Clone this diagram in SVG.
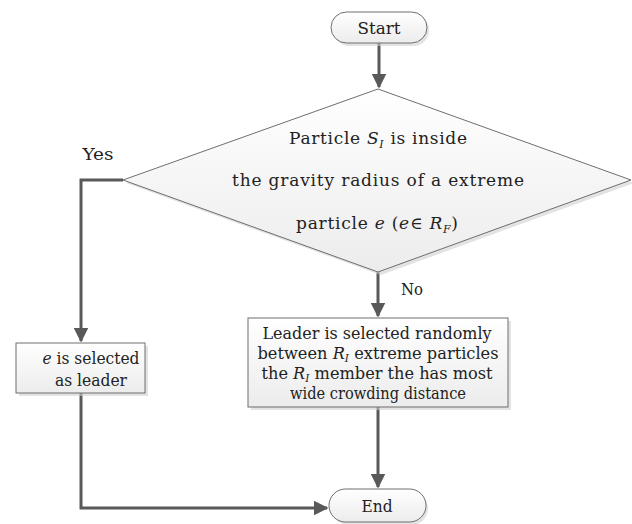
<svg xmlns="http://www.w3.org/2000/svg" width="632" height="524" viewBox="0 0 632 524">
<style>
.shape{stroke:#6e6e6e;stroke-width:1;fill:url(#grad)}
.sh{fill:#d0d0d0;opacity:.6}
.c{stroke:#595959;stroke-width:3;fill:none}
</style>
<defs>
<linearGradient id="grad" x1="0" y1="0" x2="0" y2="1"><stop offset="0" stop-color="#ffffff"/><stop offset="1" stop-color="#ececec"/></linearGradient>
<marker id="a" viewBox="0 0 10 10" refX="9" refY="5" markerWidth="5" markerHeight="5" markerUnits="strokeWidth" orient="auto"><path d="M0,0L10,5L0,10z" fill="#595959"/></marker>
</defs>
<g id="connectors">
<path class="c" d="M379,43V87" marker-end="url(#a)"/>
<path class="c" d="M123,180H81V341" marker-end="url(#a)"/>
<path class="c" d="M378,272V316" marker-end="url(#a)"/>
<path class="c" d="M378,407V487" marker-end="url(#a)"/>
<path class="c" d="M81,393V508H327" marker-end="url(#a)"/>
</g>
<g id="start">
<rect class="sh" x="334" y="15" width="95" height="31" rx="15.5"/>
<rect class="shape" x="331" y="12" width="96" height="31" rx="15.5"/>
<text x="379" y="34" font-size="17" font-family="DejaVu Serif" fill="#222" text-anchor="middle" textLength="43" lengthAdjust="spacingAndGlyphs">Start</text>
</g>
<g id="decision">
<polygon class="sh" points="381,92 634,183 381,275 126,183"/>
<polygon class="shape" points="378,89 631,180 378,272 123,180"/>
<text x="378" y="144" font-size="17" font-family="DejaVu Serif" fill="#222" text-anchor="middle" textLength="178" lengthAdjust="spacing">Particle <tspan font-style="italic">S</tspan><tspan font-style="italic" font-size="11" dy="4">I</tspan><tspan dy="-4"> is inside</tspan></text>
<text x="378" y="186" font-size="17" font-family="DejaVu Serif" fill="#222" text-anchor="middle" textLength="292" lengthAdjust="spacing">the gravity radius of a extreme</text>
<text x="377" y="229" font-size="17" font-family="DejaVu Serif" fill="#222" text-anchor="middle" textLength="162" lengthAdjust="spacing">particle <tspan font-style="italic">e</tspan> (<tspan font-style="italic">e</tspan>∈ <tspan font-style="italic">R</tspan><tspan font-style="italic" font-size="11" dy="4">F</tspan><tspan dy="-4">)</tspan></text>
</g>
<g id="yes-label"><text x="98" y="160" font-size="17" font-family="DejaVu Serif" fill="#222" text-anchor="middle" textLength="31" lengthAdjust="spacingAndGlyphs">Yes</text></g>
<g id="no-label"><text x="412" y="295" font-size="17" font-family="DejaVu Serif" fill="#222" text-anchor="middle" textLength="22" lengthAdjust="spacingAndGlyphs">No</text></g>
<g id="leader-e">
<rect class="sh" x="19" y="346" width="129" height="50"/>
<rect class="shape" x="16" y="343" width="129" height="50"/>
<text x="91" y="364" font-size="17" font-family="DejaVu Serif" fill="#222" text-anchor="middle" textLength="97" lengthAdjust="spacingAndGlyphs"><tspan font-style="italic">e</tspan> is selected</text>
<text x="91" y="386" font-size="17" font-family="DejaVu Serif" fill="#222" text-anchor="middle" textLength="72" lengthAdjust="spacingAndGlyphs">as leader</text>
</g>
<g id="leader-random">
<rect class="sh" x="251" y="321" width="260" height="89"/>
<rect class="shape" x="248" y="318" width="260" height="89"/>
<text x="377" y="339" font-size="17" font-family="DejaVu Serif" fill="#222" text-anchor="middle" textLength="229" lengthAdjust="spacingAndGlyphs">Leader is selected randomly</text>
<text x="378" y="359" font-size="17" font-family="DejaVu Serif" fill="#222" text-anchor="middle" textLength="241" lengthAdjust="spacingAndGlyphs">between <tspan font-style="italic">R</tspan><tspan font-style="italic" font-size="11" dy="3">I</tspan><tspan dy="-3"> extreme particles</tspan></text>
<text x="377" y="379" font-size="17" font-family="DejaVu Serif" fill="#222" text-anchor="middle" textLength="231" lengthAdjust="spacingAndGlyphs">the <tspan font-style="italic">R</tspan><tspan font-style="italic" font-size="11" dy="3">I</tspan><tspan dy="-3"> member the has most</tspan></text>
<text x="378" y="399" font-size="17" font-family="DejaVu Serif" fill="#222" text-anchor="middle" textLength="176" lengthAdjust="spacingAndGlyphs">wide crowding distance</text>
</g>
<g id="end">
<rect class="sh" x="332" y="492" width="96" height="33" rx="16.5"/>
<rect class="shape" x="329" y="489" width="97" height="33" rx="16.5"/>
<text x="377" y="512" font-size="17" font-family="DejaVu Serif" fill="#222" text-anchor="middle" textLength="31" lengthAdjust="spacingAndGlyphs">End</text>
</g>
</svg>
